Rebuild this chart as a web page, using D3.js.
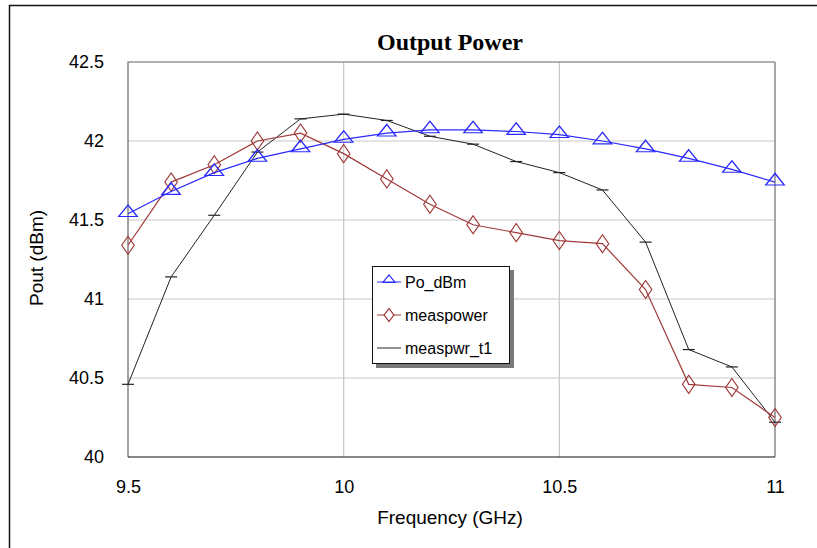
<!DOCTYPE html>
<html>
<head>
<meta charset="utf-8">
<script src="https://cdn.jsdelivr.net/npm/d3@7"></script>
<style>
  body { margin: 0; background: #fff; }
  svg { display: block; }
</style>
</head>
<body>
<svg id="chart" width="817" height="548"></svg>
<script>
// frequency points (GHz)
const freq = [9.5, 9.6, 9.7, 9.8, 9.9, 10.0, 10.1, 10.2, 10.3, 10.4, 10.5, 10.6, 10.7, 10.8, 10.9, 11.0]

// series values (dBm)
const poDbm = [41.54, 41.68, 41.80, 41.89, 41.95, 42.01, 42.05, 42.07, 42.07, 42.06, 42.04, 42.00, 41.95, 41.89, 41.82, 41.74]
const measpower = [41.34, 41.74, 41.85, 42.00, 42.05, 41.92, 41.76, 41.60, 41.47, 41.42, 41.37, 41.35, 41.06, 40.46, 40.44, 40.25]
const measpwrT1 = [40.46, 41.14, 41.53, 41.93, 42.14, 42.17, 42.13, 42.03, 41.98, 41.87, 41.80, 41.69, 41.36, 40.68, 40.57, 40.22]

const xTicks = [9.5, 10, 10.5, 11]
const yTicks = [40, 40.5, 41, 41.5, 42, 42.5]
const xTickLabels = ['9.5', '10', '10.5', '11']
const yTickLabels = ['40', '40.5', '41', '41.5', '42', '42.5']

const seriesNames = ['Po_dBm', 'measpower', 'measpwr_t1']

const svg = d3.select('#chart')

const plot = { left: 128, top: 62, right: 775, bottom: 457 }

const x = d3.scaleLinear().domain([9.5, 11]).range([plot.left, plot.right])
const y = d3.scaleLinear().domain([40, 42.5]).range([plot.bottom, plot.top])

const sans = 'Arial, "Liberation Sans", sans-serif'

// outer frame
svg.append('path')
    .attr('d', 'M9.5,560 L9.5,5.5 L830,5.5')
    .attr('fill', 'none')
    .attr('stroke', '#111')
    .attr('stroke-width', 1.5)

// title
svg.append('text')
    .attr('x', 450)
    .attr('y', 50)
    .attr('text-anchor', 'middle')
    .attr('font-family', '"Liberation Serif", "Times New Roman", serif')
    .attr('font-weight', 'bold')
    .attr('font-size', 24)
    .text('Output Power')

// grid
const grid = svg.append('g')
grid.selectAll('.gx')
    .data(xTicks.slice(1, -1))
    .enter()
    .append('line')
    .attr('x1', d => x(d)).attr('x2', d => x(d))
    .attr('y1', plot.top).attr('y2', plot.bottom)
    .attr('stroke', '#c8c8c8')
    .attr('stroke-width', 1.2)
grid.selectAll('.gy')
    .data(yTicks.slice(1, -1))
    .enter()
    .append('line')
    .attr('x1', plot.left).attr('x2', plot.right)
    .attr('y1', d => y(d)).attr('y2', d => y(d))
    .attr('stroke', '#c8c8c8')
    .attr('stroke-width', 1.2)

// plot frame
svg.append('path')
    .attr('d', `M${plot.left},${plot.bottom} L${plot.left},${plot.top} L${plot.right},${plot.top}`)
    .attr('fill', 'none').attr('stroke', '#666').attr('stroke-width', 1.2)
svg.append('line')
    .attr('x1', plot.right).attr('x2', plot.right)
    .attr('y1', plot.top).attr('y2', plot.bottom)
    .attr('stroke', '#888').attr('stroke-width', 1.5)
svg.append('line')
    .attr('x1', plot.left).attr('x2', plot.right)
    .attr('y1', plot.bottom).attr('y2', plot.bottom)
    .attr('stroke', '#111').attr('stroke-width', 1.2)

// axes (labels only, through d3 axes)
const yAxis = d3.axisLeft(y)
    .tickValues(yTicks)
    .tickFormat((d, i) => yTickLabels[i])
    .tickSize(0)
    .tickPadding(24)
const gy = svg.append('g')
    .attr('transform', `translate(${plot.left},0)`)
    .call(yAxis)
gy.select('.domain').remove()
gy.selectAll('text')
    .attr('font-family', sans)
    .attr('font-size', 18)
    .attr('fill', '#000')

const xAxis = d3.axisBottom(x)
    .tickValues(xTicks)
    .tickFormat((d, i) => xTickLabels[i])
    .tickSize(0)
    .tickPadding(23)
const gx = svg.append('g')
    .attr('transform', `translate(0,${plot.bottom})`)
    .call(xAxis)
gx.select('.domain').remove()
gx.selectAll('text')
    .attr('font-family', sans)
    .attr('font-size', 18)
    .attr('fill', '#000')

// axis titles
svg.append('text')
    .attr('x', 450)
    .attr('y', 524)
    .attr('text-anchor', 'middle')
    .attr('font-family', sans)
    .attr('font-size', 19)
    .text('Frequency (GHz)')

svg.append('text')
    .attr('transform', 'translate(43,258) rotate(-90)')
    .attr('text-anchor', 'middle')
    .attr('font-family', sans)
    .attr('font-size', 19)
    .text('Pout (dBm)')

// series
const line = d3.line()
    .x(d => x(d[0]))
    .y(d => y(d[1]))

const zip = vals => freq.map((f, i) => [f, vals[i]])

const tri = d3.symbol().type(d3.symbolTriangle).size(95)
const dia = d3.symbol().type(d3.symbolDiamond).size(95)

const gSeries = svg.append('g')

// measpwr_t1 (black)
gSeries.append('path')
    .datum(zip(measpwrT1))
    .attr('d', line)
    .attr('fill', 'none')
    .attr('stroke', '#222')
    .attr('stroke-width', 1)
gSeries.selectAll('.t1m')
    .data(zip(measpwrT1))
    .enter()
    .append('line')
    .attr('x1', d => x(d[0]) - 6)
    .attr('x2', d => x(d[0]) + 6)
    .attr('y1', d => y(d[1]))
    .attr('y2', d => y(d[1]))
    .attr('stroke', '#222')
    .attr('stroke-width', 1.2)

// measpower (dark red)
gSeries.append('path')
    .datum(zip(measpower))
    .attr('d', line)
    .attr('fill', 'none')
    .attr('stroke', '#a03a3a')
    .attr('stroke-width', 1.2)
gSeries.selectAll('.mpm')
    .data(zip(measpower))
    .enter()
    .append('path')
    .attr('d', dia)
    .attr('transform', d => `translate(${x(d[0])},${y(d[1])}) scale(1.2,1)`)
    .attr('fill', 'none')
    .attr('stroke', '#a03a3a')
    .attr('stroke-width', 1)

// Po_dBm (blue)
gSeries.append('path')
    .datum(zip(poDbm))
    .attr('d', line)
    .attr('fill', 'none')
    .attr('stroke', '#2a2aff')
    .attr('stroke-width', 1.2)
gSeries.selectAll('.pom')
    .data(zip(poDbm))
    .enter()
    .append('path')
    .attr('d', tri)
    .attr('transform', d => `translate(${x(d[0])},${y(d[1]) - 1}) scale(1.25,0.9)`)
    .attr('fill', 'none')
    .attr('stroke', '#2a2aff')
    .attr('stroke-width', 1.2)

// legend
const lg = svg.append('g').attr('transform', 'translate(372,266)')
lg.append('rect')
    .attr('x', 4).attr('y', 4)
    .attr('width', 138).attr('height', 98)
    .attr('fill', '#7a7a7a')
lg.append('rect')
    .attr('x', 0.5).attr('y', 0.5)
    .attr('width', 137).attr('height', 97)
    .attr('fill', '#fff')
    .attr('stroke', '#111')
    .attr('stroke-width', 1)

const legendColors = ['#2a2aff', '#a03a3a', '#222']
const legendRows = lg.selectAll('.row')
    .data(seriesNames)
    .enter()
    .append('g')
    .attr('transform', (d, i) => `translate(0,${16 + i * 33})`)

legendRows.append('line')
    .attr('x1', 5).attr('x2', 29)
    .attr('y1', 0).attr('y2', 0)
    .attr('stroke', (d, i) => legendColors[i])
    .attr('stroke-width', 1)
legendRows.filter((d, i) => i === 0)
    .append('path')
    .attr('d', d3.symbol().type(d3.symbolTriangle).size(40))
    .attr('transform', 'translate(17,-2) scale(1.3,0.9)')
    .attr('fill', 'none')
    .attr('stroke', legendColors[0])
legendRows.filter((d, i) => i === 1)
    .append('path')
    .attr('d', d3.symbol().type(d3.symbolDiamond).size(50))
    .attr('transform', 'translate(17,0) scale(1.3,1)')
    .attr('fill', '#fff')
    .attr('stroke', legendColors[1])
legendRows.append('text')
    .attr('x', 33)
    .attr('y', 6)
    .attr('font-family', sans)
    .attr('font-size', 16)
    .attr('fill', '#000')
    .text(d => d)
</script>
</body>
</html>
